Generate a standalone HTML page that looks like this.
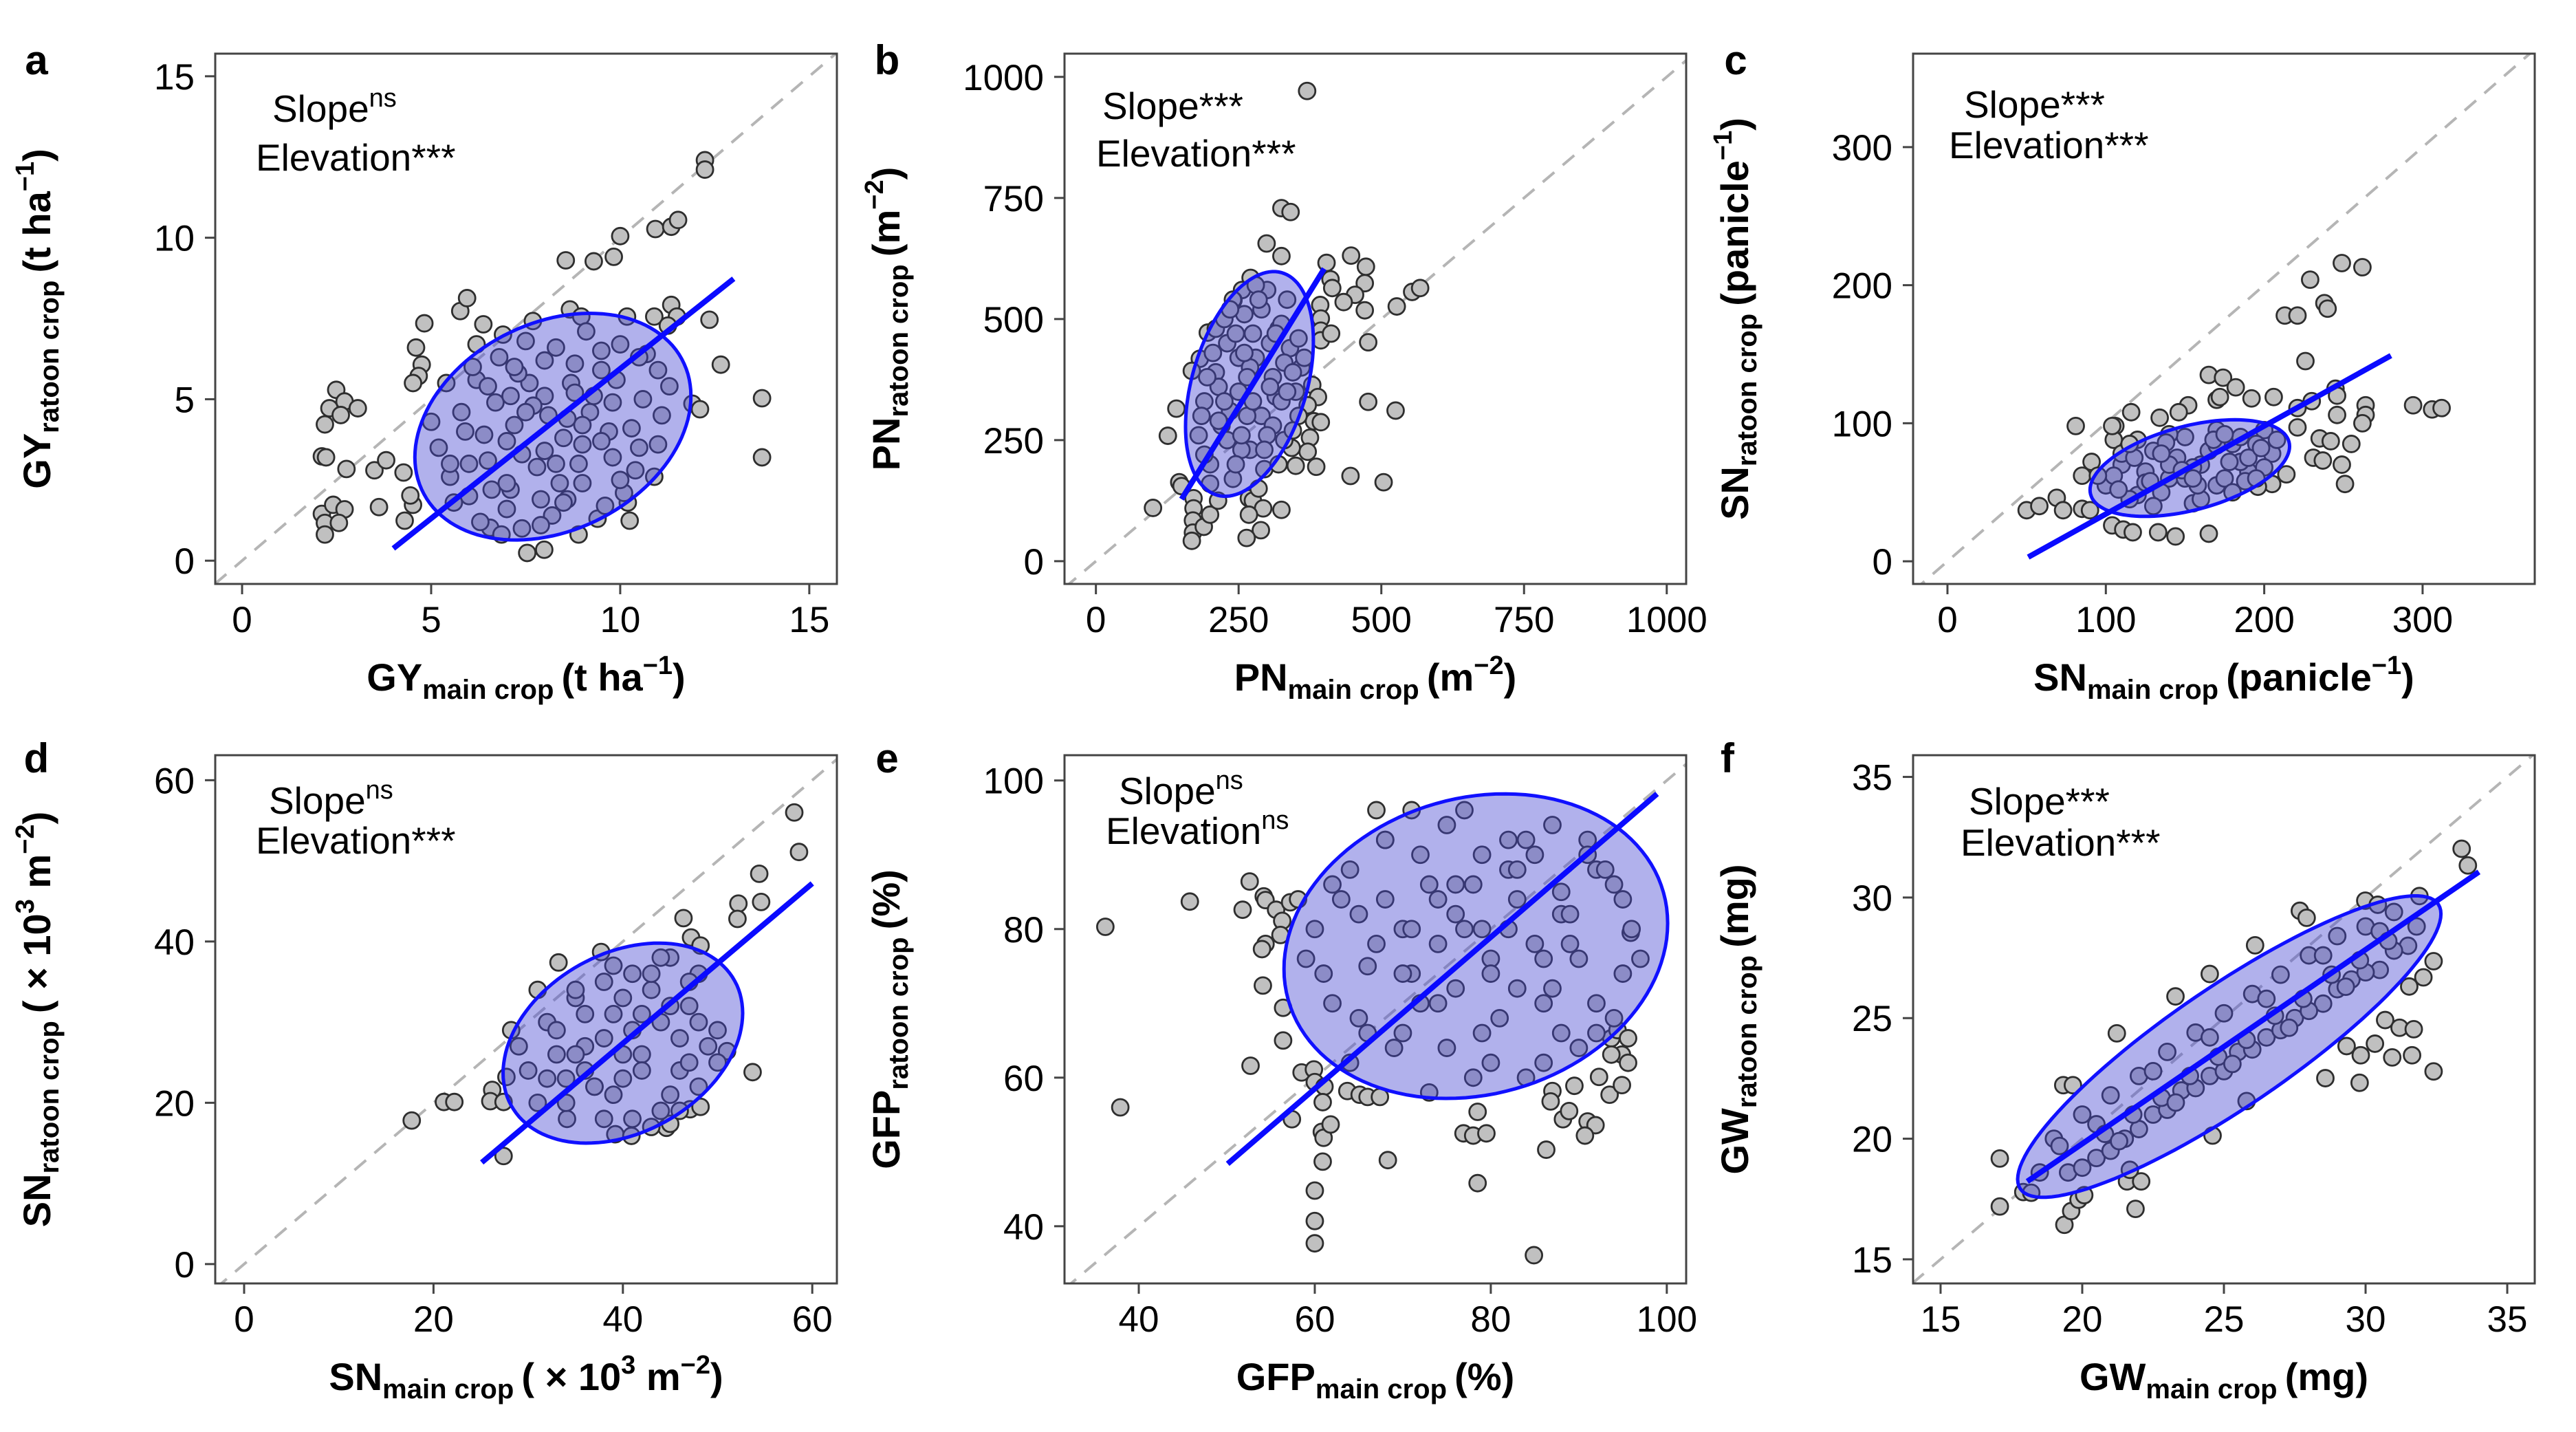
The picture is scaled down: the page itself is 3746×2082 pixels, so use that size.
<!DOCTYPE html>
<html><head><meta charset="utf-8">
<style>
html,body{margin:0;padding:0;background:#fff;}
svg{display:block;font-family:"Liberation Sans",Arial,sans-serif;}
</style></head>
<body>
<svg id="fig" width="3746" height="2082" viewBox="0 0 3746 2082" xmlns="http://www.w3.org/2000/svg"></svg>
<script>
// ---------- DATA ----------
const aOutX=[12.24,12.24,10.93,11.35,11.53,10.0,8.56,9.30,9.83,5.77,5.95,4.82,6.38,4.6,4.75,4.67,4.52,2.49,2.31,2.71,2.61,3.06,2.19,2.11,2.22,2.76,3.5,3.81,4.27,2.11,2.19,2.41,2.71,2.56,2.19,3.62,4.3,4.52,4.45,10.25,11.35,11.5,10.9,11.26,12.36,12.66,11.91,12.11,13.75,13.75,7.54,7.99,8.9,6.56,6.86,7.69,8.67,8.97,10.18];
const aOutY=[12.4,12.11,10.27,10.34,10.55,10.05,9.30,9.27,9.41,7.73,8.13,7.35,7.32,6.6,6.07,5.72,5.5,5.29,4.72,4.93,4.51,4.72,4.22,3.23,3.2,2.84,2.8,3.11,2.73,1.45,1.17,1.73,1.59,1.17,0.81,1.66,1.24,1.73,2.02,1.24,7.92,7.56,7.56,7.28,7.46,6.07,4.86,4.69,5.03,3.2,0.24,0.34,0.81,1.02,0.81,7.42,7.78,7.56,7.56];
const aInX=[5.2,5.5,5.8,6.0,6.2,6.5,6.8,7.0,7.2,7.5,7.8,8.0,8.2,8.5,8.8,9.0,9.2,9.5,9.8,10.0,10.3,10.6,11.0,11.3,5.6,6.3,7.1,7.9,8.6,9.4,10.2,10.9,6.1,6.9,7.6,8.3,9.1,9.9,10.7,5.9,6.7,7.4,8.1,8.9,9.7,10.4,6.4,7.3,8.4,9.3,10.1,7.0,8.0,9.0,7.7,8.7,
 5.0,5.4,6.6,7.2,7.9,8.8,9.6,10.5,11.1,6.0,7.0,8.0,9.0,10.0,11.0,5.5,6.5,7.5,8.5,9.5,10.5,6.2,7.4,8.6,9.8,7.1,8.3,9.5];
const aInY=[3.5,2.6,4.6,2.0,5.6,3.1,6.3,1.6,4.2,6.8,2.9,5.1,1.4,3.8,6.1,2.4,4.6,5.9,3.2,6.7,4.1,5.0,3.6,5.4,1.8,1.2,2.2,1.1,1.9,1.3,1.8,2.6,6.0,7.0,5.5,6.6,7.1,5.6,6.4,4.0,4.9,3.3,4.5,3.0,4.0,2.8,3.9,5.8,2.4,5.1,2.1,3.7,3.4,4.2,4.8,5.5,
 4.3,5.5,2.2,6.0,1.9,5.2,1.7,6.3,4.5,3.0,2.4,6.2,3.6,2.5,5.9,3.0,5.4,4.6,1.8,6.5,3.5,6.7,1.0,4.4,4.9,5.1,3.0,3.7];
const aEll=[8.22,4.15,3.65,3.51,0.27];
const aFit=[4.0,0.38,13.0,8.73];
const aTicks=[0,5,10,15];

const bOutX=[370,325,341,299,325,447,404,473,411,414,471,454,434,471,527,554,568,393,394,394,394,412,477,379,389,371,382,394,375,371,386,350,343,477,525,446,504,141,126,100,146,150,171,171,170,170,168,189,200,214,268,275,293,325,268,289,264,271,256,241,196,182,168];
const bOutY=[971,729,721,656,630,631,616,608,582,564,574,550,535,518,526,556,564,529,501,476,456,470,452,364,339,322,289,287,255,226,195,197,234,329,311,176,163,315,259,110,163,155,130,109,84,59,42,71,96,125,130,125,109,106,96,64,48,585,560,539,472,418,393];
const bInX=[180,190,200,210,220,230,240,250,260,270,280,290,300,310,320,330,340,350,360,200,215,235,255,275,295,315,335,355,190,210,230,250,270,290,310,330,225,245,265,285,305,325,345,240,260,280,300,320,
 185,205,225,245,265,285,305,325,345,365,195,215,235,255,275,295,315,335,355];
const bInY=[260,330,200,390,280,450,170,350,510,230,420,300,560,380,480,250,440,350,400,160,360,310,230,470,190,340,540,300,220,480,250,420,400,520,280,410,500,200,300,150,450,330,270,540,430,570,260,200,
 300,430,330,470,380,540,360,490,390,420,380,290,520,260,330,230,470,350,460];
const bEll=[269,366,112,232,0.38];
const bFit=[150,128,400,604];
const bTicks=[0,250,500,750,1000];

const cOutX=[249,262,229,238,240,213,221,226,165,174,182,192,206,170,172,152,146,134,116,106,81,245,246,230,221,264,264,262,246,294,306,312,221,235,242,255,249,251,231,237,214,205,196,85,91,50,58,69,73,85,90,104,111,117,133,144,165,105,104];
const cOutY=[216,213,204,187,183,178,178,145,135,133,126,118,119,117,119,113,108,104,108,98,98,125,120,116,111,113,106,100,106,113,110,111,97,89,87,85,70,56,75,73,63,56,54,62,72,37,40,46,37,38,37,26,23,21,21,18,20,88,98];
const cInX=[100,110,120,130,140,150,160,170,180,190,200,105,115,125,135,145,155,165,175,185,195,205,120,130,140,150,160,170,180,190,110,125,140,155,170,185,200,
 95,108,118,128,138,148,158,168,178,188,198,208,115,135,155,175,195];
const cInY=[55,70,48,80,60,90,70,55,85,65,95,62,45,65,50,75,42,80,60,72,85,78,88,40,92,60,45,95,50,75,78,57,70,68,84,90,68,
 62,52,75,58,86,66,55,88,72,58,82,88,85,78,60,92,60];
const cEll=[153,67.5,63,35,0.45];
const cFit=[51,3,280,149];
const cTicks=[0,100,200,300];

const dOutX=[58.1,58.6,54.4,52.2,52.1,54.6,46.4,47.2,48.2,33.2,37.7,28.2,51.0,53.7,27.7,26.2,26.0,27.4,21.1,22.2,17.7,27.4,44.6,45.0,47.1,48.2,39.2,40.9,34.1];
const dOutY=[56.0,51.1,48.4,44.7,42.8,44.9,42.9,40.5,39.5,37.4,38.7,29.0,26.4,23.8,23.2,21.6,20.2,20.1,20.1,20.1,17.8,13.4,16.9,17.4,19.2,19.5,16.1,15.9,18.0];
const dInX=[30,32,34,36,38,40,42,44,46,48,50,31,33,35,37,39,41,43,45,47,49,33,36,39,42,45,48,35,38,41,44,47,37,40,43,46,
 29,31,34,36,38,40,42,44,46,48,50,35,39,43,47,32,41,45];
const dInY=[24,30,20,27,35,23,31,19,28,36,25,20,26,33,22,37,29,34,21,32,27,29,24,31,26,38,22,34,28,18,30,35,22,26,36,24,
 27,34,23,31,18,33,24,38,19,30,29,26,21,17,25,23,36,32];
const dEll=[40.0,27.4,12.65,12.4,0.3];
const dFit=[25.1,12.6,60,47.2];
const dTicks=[0,20,40,60];

const eOutX=[36.2,37.9,45.8,52.6,51.8,54.2,54.4,55.6,56.3,56.1,54.4,54.0,57.2,58.1,54.1,56.4,56.4,52.7,57.4,58.5,59.9,60.0,61.1,60.9,60.8,61.0,61.8,60.9,60.0,60.0,60.0,63.7,65.1,66.0,67.4,68.3,76.9,78.0,79.5,78.5,78.5,84.9,86.3,87.0,86.8,88.2,88.9,89.5,91.0,91.9,90.7,92.3,93.5,94.9,93.7,94.4,95.6,94.9,95.6,93.7,95.9];
const eOutY=[80.3,56.0,83.7,86.4,82.6,84.4,83.9,82.6,81.1,79.2,78.0,77.3,83.6,84.0,72.4,69.4,65.0,61.6,54.4,60.7,61.1,59.4,58.8,56.7,52.7,51.9,53.7,48.7,44.8,40.7,37.7,58.2,57.7,57.4,57.4,48.9,52.5,52.2,52.5,55.4,45.8,36.1,50.3,58.2,56.8,54.4,55.5,58.9,54.1,53.6,52.2,60.1,57.7,59.0,65.3,66.4,65.3,63.1,62.0,63.1,79.5];
const eInX=[60,62,64,66,68,70,72,74,76,78,80,82,84,86,88,90,92,94,96,61,65,69,73,77,81,85,89,93,63,67,71,75,79,83,87,91,95,66,70,74,78,82,86,90,68,72,76,80,84,88,92,71,75,79,83,87,
 59,62,65,68,71,74,77,80,83,86,89,92,95,97,64,70,76,82,88,94,67,73,79,85,91];
const eInY=[80,70,88,75,84,66,90,78,72,86,62,80,92,70,85,76,88,68,80,74,82,64,86,80,68,90,78,88,84,78,74,94,66,84,72,92,74,66,80,84,60,88,76,64,92,70,82,76,60,82,70,96,64,90,72,94,
 76,86,68,92,80,70,96,74,88,62,82,66,84,76,62,74,86,92,66,86,96,58,80,78,90];
const eEll=[78.3,77.7,21.8,20.5,0.15];
const eFit=[50.1,48.4,98.9,98.2];
const eTicks=[40,60,80,100];

const fOutX=[33.39,33.61,31.9,29.99,30.43,27.68,27.92,26.1,24.5,23.29,21.22,32.4,32.04,31.54,30.69,31.2,31.7,30.33,30.94,31.64,32.4,28.58,29.79,29.83,29.33,25.8,24.6,17.09,17.09,17.92,18.2,19.33,19.67,19.37,19.61,19.87,20.07,21.88,21.58,22.08,21.68];
const fOutY=[32.02,31.33,30.06,29.87,29.7,29.45,29.16,28.02,26.83,25.9,24.37,27.36,26.69,26.31,24.92,24.6,24.54,23.94,23.37,23.46,22.79,22.51,22.32,23.46,23.84,21.56,20.13,19.18,17.19,17.79,17.76,22.22,22.22,16.43,17.0,17.47,17.66,17.09,18.23,18.23,18.71];
const fInX=[19,19.5,20,20.5,21,21.5,22,22.5,23,23.5,24,24.5,25,25.5,26,26.5,27,27.5,28,28.5,29,29.5,30,30.5,31,31.5,20,21,22,23,24,25,26,27,28,29,30,31,20.5,22.5,24.5,26.5,28.5,30.5,
 18.5,19.2,20.8,21.8,22.8,23.8,24.8,25.8,26.8,27.8,28.8,29.8,30.8,31.8,21.3,23.3,25.3,27.3,29.3];
const fInY=[20.0,18.6,21.0,19.2,21.8,20.0,22.6,21.0,23.6,22.0,24.4,22.6,25.2,23.6,26.0,24.2,26.8,25.0,27.6,25.6,28.4,26.6,28.8,27.0,29.4,28.0,18.8,19.5,20.4,21.2,22.1,22.8,23.7,24.5,25.3,26.2,26.9,27.8,20.6,22.8,24.2,25.8,27.6,28.6,
 18.6,19.7,20.2,21.0,21.7,22.6,23.4,24.1,25.1,25.8,26.8,27.4,28.2,28.8,19.9,21.5,23.1,24.6,26.3];
const fEll=[25.19,23.82,7.47,6.25,0.88];
const fFit=[18.06,18.23,34.0,31.06];
const fTicks=[15,20,25,30,35];

// ---------- DRAWING ----------
const NS="http://www.w3.org/2000/svg";
const svg=document.getElementById('fig');
function mk(tag,attrs,parent){const e=document.createElementNS(NS,tag);for(const k in attrs)e.setAttribute(k,attrs[k]);(parent||svg).appendChild(e);return e;}

const panels=[
 {id:'a',L:313,R:1217,T:78,B:849,xd:[-0.71,15.73],yd:[-0.72,15.7],ox:aOutX,oy:aOutY,ix:aInX,iy:aInY,ell:aEll,fit:aFit,xt:aTicks,yt:aTicks,
  v:'GY',u:[['(t ha',0],['−1',1],[')',0]],s1:['Slope','ns'],s2:['Elevation***',''],sx:83,ex:59,sb:99,eb:170,lx:53,ly:108},
 {id:'b',L:1548,R:2452,T:78,B:849,xd:[-55,1034],yd:[-47,1048],ox:bOutX,oy:bOutY,ix:bInX,iy:bInY,ell:bEll,fit:bFit,xt:bTicks,yt:bTicks,
  v:'PN',u:[['(m',0],['−2',1],[')',0]],s1:['Slope***',''],s2:['Elevation***',''],sx:55,ex:46,sb:95,eb:164,lx:1290,ly:108},
 {id:'c',L:2782,R:3686,T:78,B:849,xd:[-21.7,370.8],yd:[-16.4,367.7],ox:cOutX,oy:cOutY,ix:cInX,iy:cInY,ell:cEll,fit:cFit,xt:cTicks,yt:cTicks,
  v:'SN',u:[['(panicle',0],['−1',1],[')',0]],s1:['Slope***',''],s2:['Elevation***',''],sx:74,ex:52,sb:93,eb:152,lx:2524,ly:108},
 {id:'d',L:313,R:1217,T:1098,B:1866,xd:[-3.05,62.6],yd:[-2.4,63.1],ox:dOutX,oy:dOutY,ix:dInX,iy:dInY,ell:dEll,fit:dFit,xt:dTicks,yt:dTicks,
  v:'SN',u:[['( × 10',0],['3',1],[' m',0],['−2',1],[')',0]],s1:['Slope','ns'],s2:['Elevation***',''],sx:78,ex:59,sb:85,eb:143,lx:53,ly:1123},
 {id:'e',L:1548,R:2452,T:1098,B:1866,xd:[31.56,102.2],yd:[32.3,103.4],ox:eOutX,oy:eOutY,ix:eInX,iy:eInY,ell:eEll,fit:eFit,xt:eTicks,yt:eTicks,
  v:'GFP',u:[['(%)',0]],s1:['Slope','ns'],s2:['Elevation','ns'],sx:79,ex:60,sb:71,eb:129,lx:1290,ly:1123},
 {id:'f',L:2782,R:3686,T:1098,B:1866,xd:[14.03,35.97],yd:[14.0,35.9],ox:fOutX,oy:fOutY,ix:fInX,iy:fInY,ell:fEll,fit:fFit,xt:fTicks,yt:fTicks,
  v:'GW',u:[['(mg)',0]],s1:['Slope***',''],s2:['Elevation***',''],sx:81,ex:69,sb:86,eb:146,lx:2512,ly:1123}
];

function addTitle(g,p,x,y,sub,rot){
  const t=mk('text',{x:x,y:y,'text-anchor':'middle','font-weight':'bold','font-size':'56',fill:'#000'},g);
  if(rot)t.setAttribute('transform','rotate(-90 '+x+' '+y+')');
  
  
  let s=mk('tspan',{},t);s.textContent=p.v;
  s=mk('tspan',{'font-size':'40',dy:'12'},t);s.textContent=sub+' ';
  let cur=12;
  p.u.forEach(([txt,sup])=>{
    const target=sup?-24:0;
    const ts=mk('tspan',{'font-size':sup?'38':'56',dy:String(target-cur)},t);
    cur=target;ts.textContent=txt;
  });
}

panels.forEach((p,pi)=>{
  const g=mk('g',{});
  
  
  const X=v=>p.L+(v-p.xd[0])/(p.xd[1]-p.xd[0])*(p.R-p.L);
  const Y=v=>p.B-(v-p.yd[0])/(p.yd[1]-p.yd[0])*(p.B-p.T);
  const cid='clip'+p.id;
  const cp=mk('clipPath',{id:cid},g);mk('rect',{x:p.L,y:p.T,width:p.R-p.L,height:p.B-p.T},cp);
  const plot=mk('g',{'clip-path':'url(#'+cid+')'},g);
  
  
  const lo=Math.min(p.xd[0],p.yd[0]),hi=Math.max(p.xd[1],p.yd[1]);
  const dl=mk('line',{x1:X(lo),y1:Y(lo),x2:X(hi),y2:Y(hi),stroke:'#b5b5b5','stroke-width':'4','stroke-dasharray':'22 16'},plot);
  
  
  const xs=p.ox.concat(p.ix), ys=p.oy.concat(p.iy);
  const n=Math.min(xs.length,ys.length);
  for(let i=0;i<n;i++){
    const c=mk('circle',{cx:X(xs[i]),cy:Y(ys[i]),r:12,fill:'#c0c0c0',stroke:'#2e2e2e','stroke-width':'2.8'},plot);
    
    
  }
  const [cx,cy,hx,hy,r]=p.ell;const s=Math.sqrt(1-r*r);
  let d='';
  for(let k=0;k<=120;k++){const t=k/120*2*Math.PI;
    const ex=cx+hx*Math.cos(t), ey=cy+hy*(r*Math.cos(t)+s*Math.sin(t));
    d+=(k?'L':'M')+X(ex).toFixed(1)+' '+Y(ey).toFixed(1);}
  const el=mk('path',{d:d+'Z',fill:'rgba(70,70,210,0.42)',stroke:'#1010ff','stroke-width':'5'},plot);
  
  
  const fl=mk('line',{x1:X(p.fit[0]),y1:Y(p.fit[1]),x2:X(p.fit[2]),y2:Y(p.fit[3]),stroke:'#0a0aff','stroke-width':'8'},plot);
  
  
  const fr=mk('rect',{x:p.L,y:p.T,width:p.R-p.L,height:p.B-p.T,fill:'none',stroke:'#444','stroke-width':'3'},g);
  
  
  p.xt.forEach(v=>{
    const tk=mk('line',{x1:X(v),x2:X(v),y1:p.B,y2:p.B+15,stroke:'#444','stroke-width':'3'},g);
    
    
    const tl=mk('text',{x:X(v),y:p.B+70,'text-anchor':'middle','font-size':'53',fill:'#000'},g);
    
    
    tl.textContent=v;
  });
  p.yt.forEach(v=>{
    const tk=mk('line',{x1:p.L-15,x2:p.L,y1:Y(v),y2:Y(v),stroke:'#444','stroke-width':'3'},g);
    
    
    const tl=mk('text',{x:p.L-30,y:Y(v)+19,'text-anchor':'end','font-size':'53',fill:'#000'},g);
    
    
    tl.textContent=v;
  });
  const a1=mk('text',{x:p.L+p.sx,y:p.T+p.sb,'font-size':'55',fill:'#000'},g);
  
  
  let ts=mk('tspan',{},a1);ts.textContent=p.s1[0];
  if(p.s1[1]){ts=mk('tspan',{'font-size':'38',dy:'-22'},a1);ts.textContent=p.s1[1];}
  const a2=mk('text',{x:p.L+p.ex,y:p.T+p.eb,'font-size':'55',fill:'#000'},g);
  
  
  ts=mk('tspan',{},a2);ts.textContent=p.s2[0];
  if(p.s2[1]){ts=mk('tspan',{'font-size':'38',dy:'-22'},a2);ts.textContent=p.s2[1];}
  addTitle(g,p,(p.L+p.R)/2,p.B+155,'main crop',false);
  addTitle(g,p,p.L-240,(p.T+p.B)/2,'ratoon crop',true);
  const lt=mk('text',{x:p.lx,y:p.ly,'font-size':'60','font-weight':'bold','text-anchor':'middle',fill:'#000'},g);
  
  
  lt.textContent=p.id;
});
</script>
</body></html>
